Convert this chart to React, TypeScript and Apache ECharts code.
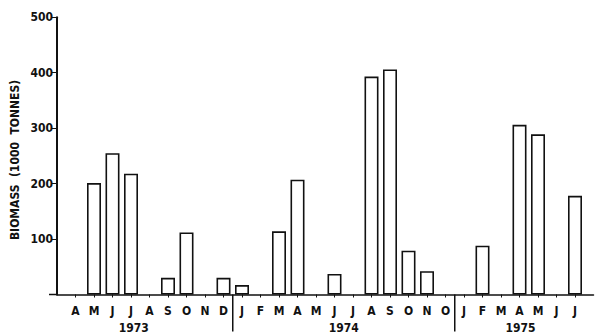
import React, { useEffect, useRef } from "react";
import * as echarts from "echarts";

const months: string[] = [
  "", "A", "M", "J", "J", "A", "S", "O", "N", "D",
  "J", "F", "M", "A", "M", "J", "J", "A", "S", "O", "N", "O",
  "J", "F", "M", "A", "M", "J", "J", "",
];
const biomass: (number | null)[] = [
  null, 0, 201, 255, 218, 0, 30, 112, 0, 30,
  17, 0, 114, 207, 0, 37, 0, 393, 406, 79, 42, 0,
  0, 88, 0, 306, 289, 0, 178, null,
];
const yTicks: number[] = [0, 100, 200, 300, 400, 500];
const years: string[] = ["1973", "1974", "1975"];
// year label anchors (category index, may be fractional) and separators
const yearAnchors: number[] = [4.15, 15.5, 25.05];
const separators: number[] = [9.5, 21.5];

const FONT = "'DejaVu Sans Condensed', 'DejaVu Sans', sans-serif";

export default function App() {
  const ref = useRef<HTMLDivElement>(null);
  useEffect(() => {
    if (!ref.current) return;
    const chart = echarts.init(ref.current, undefined, { renderer: "svg" });
    const option: any = {
      animation: false,
      backgroundColor: "#ffffff",
      grid: { left: 57, right: 6.5, top: 17.3, bottom: 41.5 },
      xAxis: {
        type: "category",
        data: months,
        boundaryGap: false,
        axisLine: { lineStyle: { color: "#111", width: 1.5 } },
        axisTick: {
          show: true,
          length: 3,
          lineStyle: { color: "#111", width: 1 },
          interval: (i: number, v: string) => v !== "",
        },
        axisLabel: {
          interval: 0,
          color: "#111",
          fontFamily: FONT,
          fontWeight: "bold",
          fontSize: 12,
          margin: 10,
        },
        splitLine: { show: false },
      },
      yAxis: {
        type: "value",
        min: yTicks[0],
        max: yTicks[yTicks.length - 1],
        interval: 100,
        axisLine: { show: true, lineStyle: { color: "#111", width: 2 } },
        axisTick: { show: true, length: 5, lineStyle: { color: "#111", width: 1 } },
        axisLabel: {
          color: "#111",
          fontFamily: FONT,
          fontWeight: "bold",
          fontSize: 12,
          margin: 4,
          formatter: (v: number) => (v === 0 ? "" : String(v)),
        },
        splitLine: { show: false },
      },
      series: [
        {
          type: "bar",
          data: biomass.map((v) =>
            v === 0 ? { value: 0, itemStyle: { borderWidth: 0 } } : v
          ),
          barWidth: 14,
          itemStyle: { color: "#ffffff", borderColor: "#111", borderWidth: 1.6 },
        },
      ],
    };
    chart.setOption(option);

    const y0 = chart.convertToPixel({ yAxisIndex: 0 }, 0) as number;
    const idxToPx = (f: number) => {
      const a = chart.convertToPixel({ xAxisIndex: 0 }, Math.floor(f)) as number;
      const b = chart.convertToPixel({ xAxisIndex: 0 }, Math.floor(f) + 1) as number;
      return a + (b - a) * (f - Math.floor(f));
    };
    const graphics: any[] = [];
    separators.forEach((s) => {
      const x = idxToPx(s);
      graphics.push({
        type: "line",
        shape: { x1: x, y1: y0, x2: x, y2: y0 + 37 },
        style: { stroke: "#111", lineWidth: 1.5 },
      });
    });
    years.forEach((yr, i) => {
      graphics.push({
        type: "text",
        x: idxToPx(yearAnchors[i]),
        y: y0 + 33,
        style: {
          text: yr,
          fill: "#111",
          font: `bold 12px ${FONT}`,
          align: "center",
          verticalAlign: "middle",
        },
      });
    });
    // y-axis title
    graphics.push({
      type: "text",
      x: 15,
      y: 160,
      rotation: Math.PI / 2,
      style: {
        text: "BIOMASS  (1000  TONNES)",
        fill: "#111",
        font: `bold 12px ${FONT}`,
        align: "center",
        verticalAlign: "middle",
      },
    });
    // axis stub left of y-axis
    graphics.push({
      type: "line",
      shape: { x1: 49, y1: y0, x2: 57, y2: y0 },
      style: { stroke: "#111", lineWidth: 1.5 },
    });
    chart.setOption({ graphic: graphics });

    return () => chart.dispose();
  }, []);
  return <div ref={ref} style={{ width: 600, height: 336, position: "absolute", left: 0, top: 0 }} />;
}
